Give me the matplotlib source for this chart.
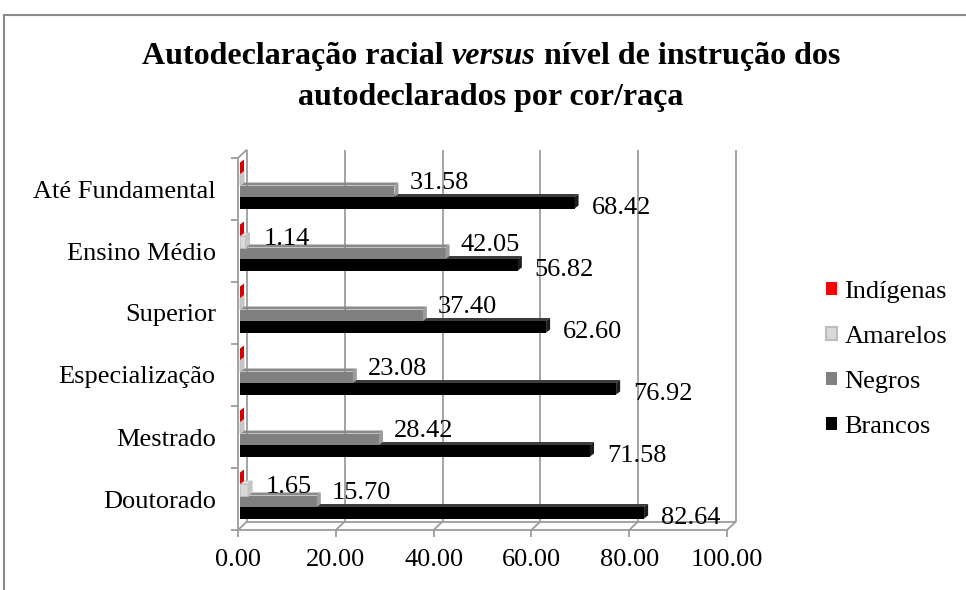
import matplotlib
matplotlib.use('Agg')
import matplotlib.pyplot as plt
from matplotlib.patches import Polygon, Patch
from matplotlib.lines import Line2D

# ---------------- data ----------------
categories = ['Até Fundamental', 'Ensino Médio', 'Superior', 'Especialização', 'Mestrado', 'Doutorado']
series_names = ['Indígenas', 'Amarelos', 'Negros', 'Brancos']
indigenas = [0.00, 0.00, 0.00, 0.00, 0.00, 0.00]
amarelos = [0.00, 1.14, 0.00, 0.00, 0.00, 1.65]
negros = [31.58, 42.05, 37.40, 23.08, 28.42, 15.70]
brancos = [68.42, 56.82, 62.60, 76.92, 71.58, 82.64]
xticks = [0, 20, 40, 60, 80, 100]

# ---------------- figure ----------------
W, H, DPI = 966, 590, 100
plt.rcParams['font.family'] = ['Liberation Serif', 'DejaVu Serif']
fig = plt.figure(figsize=(W / DPI, H / DPI), dpi=DPI)

GRID = '#9c9c9c'
GLW = 1.3
FS = 19

# front plane of the 3D box (pixels)
L, R, B, T = 238, 727, 530, 158
ax = fig.add_axes([L / W, 1 - B / H, (R - L) / W, (B - T) / H])
n = len(categories)
ax.set_xlim(0, 100)
ax.set_ylim(-0.5, n - 0.5)
ux = 100 / (R - L)          # data units per pixel (x)
uy = n / (B - T)            # data units per pixel (y)

ypos = [n - 1 - i for i in range(n)]

for s in ['top', 'right']:
    ax.spines[s].set_visible(False)
for s in ['left', 'bottom']:
    ax.spines[s].set_color(GRID)
    ax.spines[s].set_linewidth(GLW)

ax.set_xticks(xticks)
ax.set_xticklabels([f'{v:.2f}' for v in xticks], fontsize=FS)
ax.tick_params(axis='x', length=5, width=GLW, color=GRID, pad=8.5)
ax.set_yticks(ypos)
ax.set_yticklabels(categories, fontsize=FS)
ax.tick_params(axis='y', which='major', length=0, pad=16)
ax.set_yticks([y - 0.5 for y in range(n + 1)], minor=True)
ax.tick_params(axis='y', which='minor', length=5, width=GLW, color=GRID)

# back wall / floor
gx, gy = 9 * ux, 8.5 * uy
y0, y1 = -0.5, n - 0.5
kw = dict(color=GRID, lw=GLW, clip_on=False, zorder=1, solid_capstyle='butt')
for xv in xticks:
    ax.plot([xv + gx, xv + gx], [y0 + gy, y1 + gy], **kw)
    ax.plot([xv, xv + gx], [y0, y0 + gy], **kw)
ax.plot([xticks[0] + gx, xticks[-1] + gx], [y0 + gy, y0 + gy], **kw)
ax.plot([0, gx], [y1, y1 + gy], **kw)

# ---------------- 3D bars ----------------
styles = {
    'Indígenas': dict(front='#ff0000', top='#ff3030', side='#d40000', edge='none'),
    'Amarelos': dict(front='#d9d9d9', top='#e2e2e2', side='#c8c8c8', edge='#bdbdbd'),
    'Negros': dict(front='#808080', top='#8a8a8a', side='#9c9c9c', edge='none'),
    'Brancos': dict(front='#000000', top='#3c3c3c', side='#1c1c1c', edge='none'),
}
label_off = {  # pixel offsets of value labels (left/baseline) from bar end / centre
    'Amarelos': (18, -3),
    'Negros': (15, 2),
    'Brancos': (17, -11.5),
}
all_vals = [indigenas, amarelos, negros, brancos]
h = 11.5 * uy
shift = 3.5 * uy
sx = 2 * ux
bdx, bdy = 4 * ux, 3 * uy

for k in range(3, -1, -1):
    name = series_names[k]
    vals = all_vals[k]
    st = styles[name]
    z = 10 - k
    lw = 0.6 if st['edge'] != 'none' else 0
    yc = [y + shift + (1.5 - k) * h for y in ypos]
    ax.barh(yc, vals, height=h, left=sx, color=st['front'],
            edgecolor=st['edge'], linewidth=lw, zorder=z, clip_on=False)
    for v, y in zip(vals, yc):
        x0, x1 = sx, sx + v
        yb, yt = y - h / 2, y + h / 2
        if v > 0:
            ax.add_patch(Polygon([(x0, yt), (x1, yt), (x1 + bdx, yt + bdy), (x0 + bdx, yt + bdy)],
                                 closed=True, facecolor=st['top'], edgecolor=st['edge'],
                                 linewidth=lw, zorder=z, clip_on=False))
        ax.add_patch(Polygon([(x1, yb), (x1, yt), (x1 + bdx, yt + bdy), (x1 + bdx, yb + bdy)],
                             closed=True, facecolor=st['side'], edgecolor=st['edge'],
                             linewidth=lw, zorder=z, clip_on=False))
        if v > 0 and name in label_off:
            dx, dy = label_off[name]
            ax.annotate(f'{v:.2f}', xy=(x1, y), xytext=(dx, dy), textcoords='offset pixels',
                        ha='left', va='baseline', fontsize=FS, zorder=20,
                        annotation_clip=False)

# ---------------- legend ----------------
handles = [Patch(facecolor=styles[s]['front'],
                 edgecolor=styles[s]['edge'] if styles[s]['edge'] != 'none' else styles[s]['front'],
                 linewidth=1.5 if s == 'Amarelos' else 0, label=s) for s in series_names]
fig.legend(handles=handles, loc='upper left', bbox_to_anchor=(826 / W, 1 - 281 / H),
           frameon=False, fontsize=FS, handlelength=0.4, handleheight=0.4,
           handletextpad=0.3, labelspacing=0.87, borderpad=0, borderaxespad=0)

# ---------------- title ----------------
renderer = fig.canvas.get_renderer()
TFS = 23

def text_w(s, style):
    t = fig.text(0, 0, s, fontsize=TFS, fontweight='bold', fontstyle=style)
    w = t.get_window_extent(renderer).width
    t.remove()
    return w

space = text_w('a a', 'normal') - text_w('aa', 'normal')
parts = [('Autodeclaração racial', 'normal'), ('versus', 'italic'), ('nível de instrução dos', 'normal')]
widths = [text_w(p, s) for p, s in parts]
total = sum(widths) + space * (len(parts) - 1)
cx = 491
x = cx - total / 2
for (p, s), w in zip(parts, widths):
    fig.text(x / W, 1 - 64 / H, p, fontsize=TFS, fontweight='bold', fontstyle=s,
             ha='left', va='baseline')
    x += w + space
fig.text(cx / W, 1 - 105 / H, 'autodeclarados por cor/raça', fontsize=TFS,
         fontweight='bold', ha='center', va='baseline')

# outer frame (cropped chart border)
fig.add_artist(Line2D([4 / W, 1.01], [1 - 15 / H, 1 - 15 / H], transform=fig.transFigure,
                      color='#8a8a8a', lw=1.5))
fig.add_artist(Line2D([4 / W, 4 / W], [1 - 15 / H, -0.01], transform=fig.transFigure,
                      color='#8a8a8a', lw=1.5))

fig.savefig('out.png', dpi=DPI)
